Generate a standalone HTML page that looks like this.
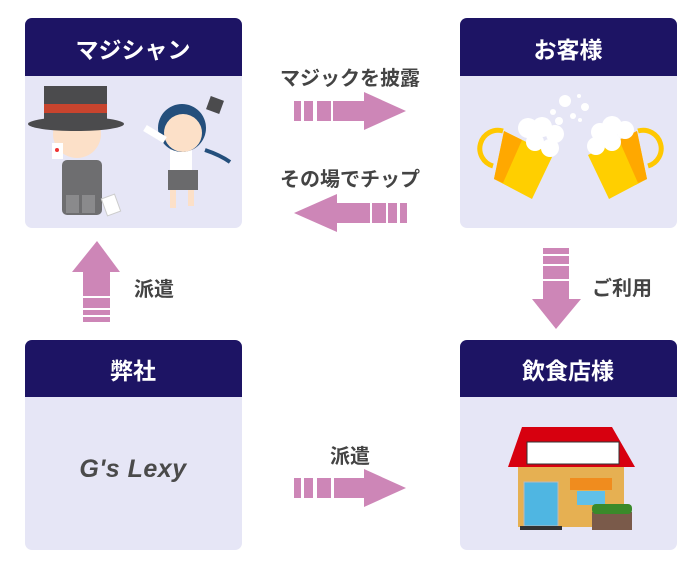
<!DOCTYPE html>
<html><head><meta charset="utf-8"><style>
body{margin:0;width:700px;height:567px;background:#fff;overflow:hidden}
svg text{font-family:"Liberation Sans","Noto Sans CJK JP",sans-serif;font-weight:bold}
</style></head><body>
<svg width="700" height="567" viewBox="0 0 700 567" xmlns="http://www.w3.org/2000/svg">
<defs><clipPath id="c1"><rect x="25" y="18" width="217" height="210" rx="7"/></clipPath>
<clipPath id="c2"><rect x="460" y="18" width="217" height="210" rx="7"/></clipPath>
<clipPath id="c3"><rect x="25" y="340" width="217" height="210" rx="7"/></clipPath>
<clipPath id="c4"><rect x="460" y="340" width="217" height="210" rx="7"/></clipPath></defs>
<g clip-path="url(#c1)"><rect x="25" y="18" width="217" height="210" fill="#e6e6f6"/><rect x="25" y="18" width="217" height="58" fill="#1d1464"/></g>
<g clip-path="url(#c2)"><rect x="460" y="18" width="217" height="210" fill="#e6e6f6"/><rect x="460" y="18" width="217" height="58" fill="#1d1464"/></g>
<g clip-path="url(#c3)"><rect x="25" y="340" width="217" height="210" fill="#e6e6f6"/><rect x="25" y="340" width="217" height="57" fill="#1d1464"/></g>
<g clip-path="url(#c4)"><rect x="460" y="340" width="217" height="210" fill="#e6e6f6"/><rect x="460" y="340" width="217" height="57" fill="#1d1464"/></g>
<g fill="#fff" font-size="23" text-anchor="middle">
<text x="133" y="58">マジシャン</text><text x="568" y="58">お客様</text>
<text x="133" y="379">弊社</text><text x="568" y="379">飲食店様</text></g>
<text x="133" y="477" text-anchor="middle" font-size="25" font-style="italic" fill="#4a4a4a" style="letter-spacing:0.5px">G's Lexy</text>
<g fill="#444" font-size="20" text-anchor="middle">
<text x="350" y="85">マジックを披露</text><text x="350" y="186">その場でチップ</text>
<text x="350" y="463">派遣</text><text x="622" y="295">ご利用</text><text x="154" y="296">派遣</text></g>
<g fill="#cd86b7">
<rect x="294" y="101" width="7" height="20"/><rect x="304" y="101" width="9" height="20"/><rect x="317" y="101" width="14" height="20"/><rect x="333" y="101" width="32" height="20"/><polygon points="364,92 406,111 364,130"/>
<rect x="400" y="203" width="7" height="20"/><rect x="388" y="203" width="9" height="20"/><rect x="372" y="203" width="14" height="20"/><rect x="336" y="203" width="34" height="20"/><polygon points="337,194 294,213 337,232"/>
<rect x="294" y="478" width="7" height="20"/><rect x="304" y="478" width="9" height="20"/><rect x="317" y="478" width="14" height="20"/><rect x="334" y="478" width="31" height="20"/><polygon points="364,469 406,488 364,507"/>
<rect x="543" y="248" width="26" height="6"/><rect x="543" y="256" width="26" height="8"/><rect x="543" y="266" width="26" height="13"/><rect x="543" y="281" width="26" height="19"/><polygon points="532,299 581,299 556,329"/>
<polygon points="97,241 120,272 72,272"/><rect x="83" y="271" width="27" height="25"/><rect x="83" y="298" width="27" height="10"/><rect x="83" y="310" width="27" height="5"/><rect x="83" y="317" width="27" height="5"/>
</g>
<g>
<rect x="62" y="160" width="40" height="55" rx="5" fill="#6e6e70"/>
<rect x="66" y="195" width="13" height="18" fill="#8a8a8c"/><rect x="82" y="195" width="13" height="18" fill="#8a8a8c"/>
<circle cx="77" cy="134" r="24" fill="#fce0c8"/>
<rect x="44" y="86" width="63" height="36" fill="#4b4b4d"/><rect x="44" y="104" width="63" height="9" fill="#c8442e"/>
<ellipse cx="76" cy="124" rx="48" ry="7" fill="#4b4b4d"/>
<rect x="52" y="143" width="11" height="16" fill="#fff"/><circle cx="57" cy="150" r="2" fill="#e33"/>
<rect x="104" y="196" width="14" height="18" fill="#fff" stroke="#ccc" transform="rotate(-20 111 205)"/>
</g>
<g>
<rect x="170" y="150" width="22" height="22" fill="#fff"/>
<rect x="168" y="170" width="30" height="20" fill="#6a6a6c"/>
<circle cx="182" cy="128" r="24" fill="#244f7c"/>
<circle cx="183" cy="133" r="19" fill="#fce0c8"/>
<rect x="208" y="98" width="14" height="14" fill="#4b4b4d" transform="rotate(20 215 105)"/>
<path d="M205 150 q15 5 25 12" stroke="#244f7c" stroke-width="4" fill="none"/>
<path d="M165 140 l-20 -12" stroke="#fff" stroke-width="7"/>
<rect x="170" y="190" width="6" height="18" fill="#fce0c8"/><rect x="188" y="190" width="6" height="16" fill="#fce0c8"/>
</g>
<g>
<path d="M503 131 a14 14 0 0 0 -10 35" stroke="#ffc800" stroke-width="5" fill="none"/>
<polygon points="504,131 553,155 532,199 494,179" fill="#ffcf00"/>
<polygon points="504,131 522,140 503,183 494,179" fill="#ffa800"/>
<polygon points="637,131 588,155 609,199 647,179" fill="#ffcf00"/>
<polygon points="637,131 619,140 638,183 647,179" fill="#ffa800"/>
<path d="M638 131 a14 14 0 0 1 10 35" stroke="#ffc800" stroke-width="5" fill="none"/>
<g fill="#fff"><circle cx="528" cy="128" r="10"/><circle cx="542" cy="127" r="10"/><circle cx="555" cy="134" r="9"/><circle cx="550" cy="148" r="9"/><circle cx="535" cy="142" r="9"/>
<circle cx="600" cy="132" r="9"/><circle cx="612" cy="126" r="10"/><circle cx="625" cy="130" r="9"/><circle cx="596" cy="146" r="9"/><circle cx="612" cy="142" r="9"/>
<circle cx="565" cy="101" r="6"/><circle cx="585" cy="107" r="4"/><circle cx="553" cy="112" r="3"/><circle cx="559" cy="121" r="4"/><circle cx="573" cy="116" r="3"/><circle cx="580" cy="120" r="2"/><circle cx="579" cy="96" r="2"/></g>
</g>
<g>
<rect x="518" y="467" width="106" height="60" fill="#e6b052"/>
<polygon points="522,427 612,427 635,467 508,467" fill="#d7000f"/>
<rect x="527" y="442" width="92" height="22" fill="#fff" stroke="#333"/>
<rect x="524" y="482" width="34" height="44" fill="#4fb6e2" stroke="#bbb"/>
<rect x="520" y="526" width="42" height="4" fill="#333"/>
<rect x="570" y="478" width="42" height="12" fill="#f08c1e"/>
<rect x="577" y="491" width="28" height="14" fill="#60c0e8"/>
<rect x="592" y="512" width="40" height="18" fill="#7a5a4a"/>
<rect x="592" y="504" width="40" height="10" rx="4" fill="#3a8a2a"/>
</g>
</svg>
</body></html>
